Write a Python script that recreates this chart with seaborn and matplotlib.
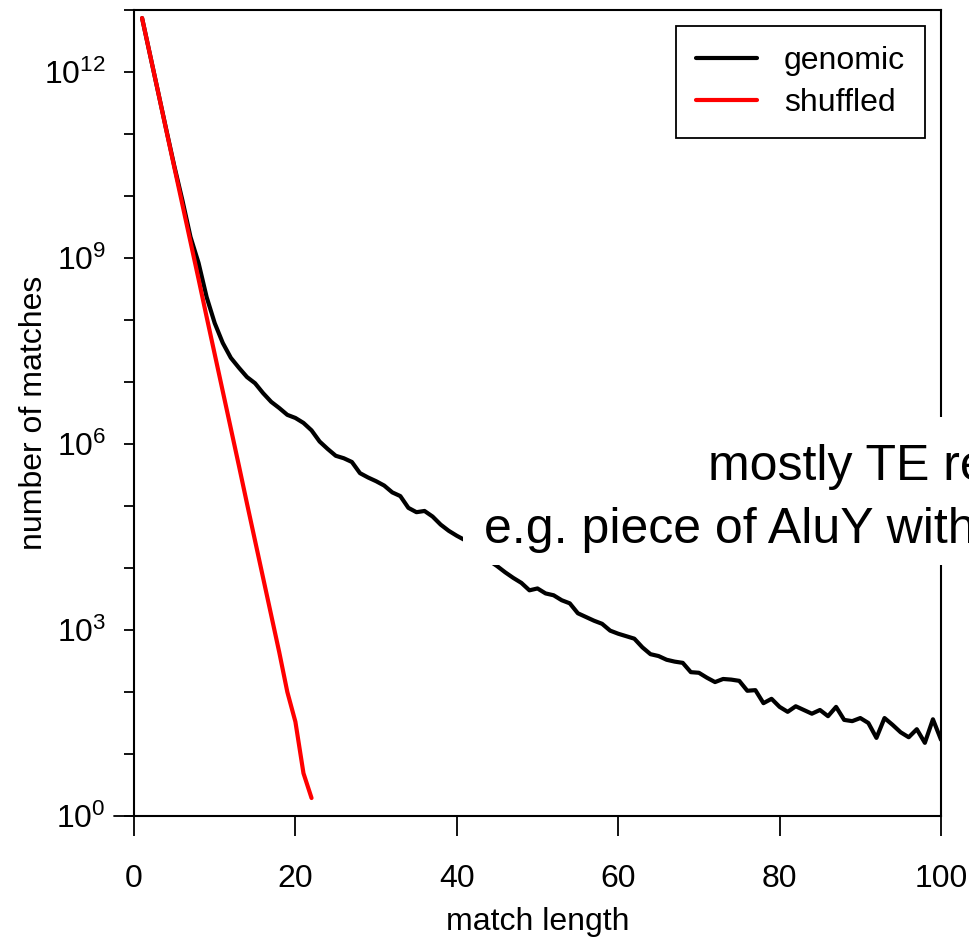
import numpy as np
import pandas as pd
import matplotlib
matplotlib.use("Agg")
import matplotlib.pyplot as plt
import seaborn as sns
from matplotlib.ticker import FixedLocator, FuncFormatter
from matplotlib.patches import Rectangle
from matplotlib.lines import Line2D

# ---- data (log10 of number of matches) ----
genomic_len = list(range(1, 101))
genomic_log10 = [
    12.87, 12.27, 11.67, 11.07, 10.48, 9.93, 9.34, 8.92, 8.37, 7.95,
    7.63, 7.39, 7.23, 7.08, 6.98, 6.82, 6.68, 6.58, 6.47, 6.42,
    6.34, 6.22, 6.04, 5.92, 5.81, 5.77, 5.71, 5.53, 5.46, 5.40,
    5.33, 5.22, 5.16, 4.97, 4.90, 4.92, 4.83, 4.70, 4.60, 4.52,
    4.45, 4.35, 4.22, 4.12, 4.03, 3.93, 3.84, 3.76, 3.64, 3.67,
    3.59, 3.56, 3.48, 3.43, 3.27, 3.21, 3.15, 3.10, 2.99, 2.94,
    2.90, 2.86, 2.72, 2.61, 2.58, 2.52, 2.49, 2.47, 2.32, 2.31,
    2.23, 2.16, 2.21, 2.20, 2.18, 2.02, 2.03, 1.82, 1.89, 1.76,
    1.68, 1.77, 1.71, 1.65, 1.71, 1.61, 1.76, 1.55, 1.53, 1.58,
    1.50, 1.26, 1.58, 1.47, 1.35, 1.27, 1.40, 1.18, 1.56, 1.23,
]
shuffled_len = list(range(1, 23))
shuffled_log10 = [
    12.87, 12.27, 11.67, 11.06, 10.46, 9.86, 9.26, 8.66, 8.05, 7.45,
    6.85, 6.25, 5.65, 5.04, 4.44, 3.84, 3.24, 2.64, 2.00, 1.52,
    0.69, 0.29,
]
series_names = ["genomic", "shuffled"]
series_colors = ["black", "red"]
x_ticks = [0, 20, 40, 60, 80, 100]
y_decades = list(range(0, 14))
x_label = "match length"
y_label = "number of matches"
note_lines = ["mostly TE repeats", "e.g. piece of AluY with"]

df = pd.concat([
    pd.DataFrame({"length": genomic_len, "count": np.power(10.0, genomic_log10), "series": series_names[0]}),
    pd.DataFrame({"length": shuffled_len, "count": np.power(10.0, shuffled_log10), "series": series_names[1]}),
], ignore_index=True)

sns.set_theme(style="white")
plt.rcParams["font.family"] = ["Liberation Sans", "DejaVu Sans"]
plt.rcParams["mathtext.fontset"] = "custom"
plt.rcParams["mathtext.rm"] = "Liberation Sans"
plt.rcParams["mathtext.it"] = "Liberation Sans"
for k in ["text.color", "axes.labelcolor", "xtick.color", "ytick.color", "axes.edgecolor"]:
    plt.rcParams[k] = "black"

W, H = 969, 940
fig = plt.figure(figsize=(W / 100, H / 100), dpi=100)
L, R, T, B = 134, 941, 10, 816
ax = fig.add_axes([L / W, (H - B) / H, (R - L) / W, (B - T) / H])

sns.lineplot(data=df, x="length", y="count", hue="series",
             palette=dict(zip(series_names, series_colors)),
             linewidth=3.0, ax=ax, legend=False)

ax.set_yscale("log")
ax.set_xlim(0, 100)
ax.set_ylim(1, 1e13)

ax.xaxis.set_major_locator(FixedLocator(x_ticks))
ax.yaxis.set_major_locator(FixedLocator([10.0 ** d for d in y_decades]))
ax.yaxis.set_minor_locator(FixedLocator([]))
ax.yaxis.set_major_formatter(FuncFormatter(
    lambda v, p: (r"$\mathregular{10^{%d}}$" % int(round(np.log10(v)))) if int(round(np.log10(v))) % 3 == 0 else ""))

ax.tick_params(axis="x", which="major", direction="out", length=14.4, width=1.3,
               labelsize=23, pad=20, colors="black", bottom=True)
ax.tick_params(axis="y", which="major", direction="out", length=7.2, width=1.3,
               labelsize=23, pad=13, colors="black", left=True)
for s in ax.spines.values():
    s.set_color("black")
    s.set_linewidth(1.5)

ax.set_xlabel(x_label, fontsize=23)
ax.set_ylabel(y_label, fontsize=23)
ax.xaxis.set_label_coords(0.5, (B - 907) / (B - T))
ax.yaxis.set_label_coords((49 - L) / (R - L), 0.5)

# extra long tick at 10^0
ax.add_line(Line2D([-20 / (R - L), 0], [0, 0], transform=ax.transAxes,
                   color="black", lw=1.3, clip_on=False))

handles = [Line2D([0], [0], color=c, lw=3.0) for c in series_colors]
leg = ax.legend(handles, series_names, loc="upper right", fontsize=23,
                frameon=True, fancybox=False, shadow=False, framealpha=1.0,
                handlelength=1.9, handletextpad=0.85, labelspacing=0.38,
                borderpad=0.62, borderaxespad=0.5)
leg.get_frame().set_edgecolor("black")
leg.get_frame().set_linewidth(1.3)
for t in leg.get_texts():
    t.set_color("black")

# white annotation box
x0 = (463 - L) / (R - L)
y0 = (B - 565) / (B - T)
y1 = (B - 417) / (B - T)
ax.add_patch(Rectangle((x0, y0), 1.0, y1 - y0, transform=ax.transAxes,
                       facecolor="white", edgecolor="none", clip_on=False, zorder=10))
ax.text((708 - L) / (R - L), (B - 480) / (B - T), note_lines[0], transform=ax.transAxes,
        fontsize=36, ha="left", va="baseline", zorder=11, clip_on=False, color="black")
ax.text((484 - L) / (R - L), (B - 543) / (B - T), note_lines[1], transform=ax.transAxes,
        fontsize=36, ha="left", va="baseline", zorder=11, clip_on=False, color="black")

fig.savefig("out.png", dpi=100)
